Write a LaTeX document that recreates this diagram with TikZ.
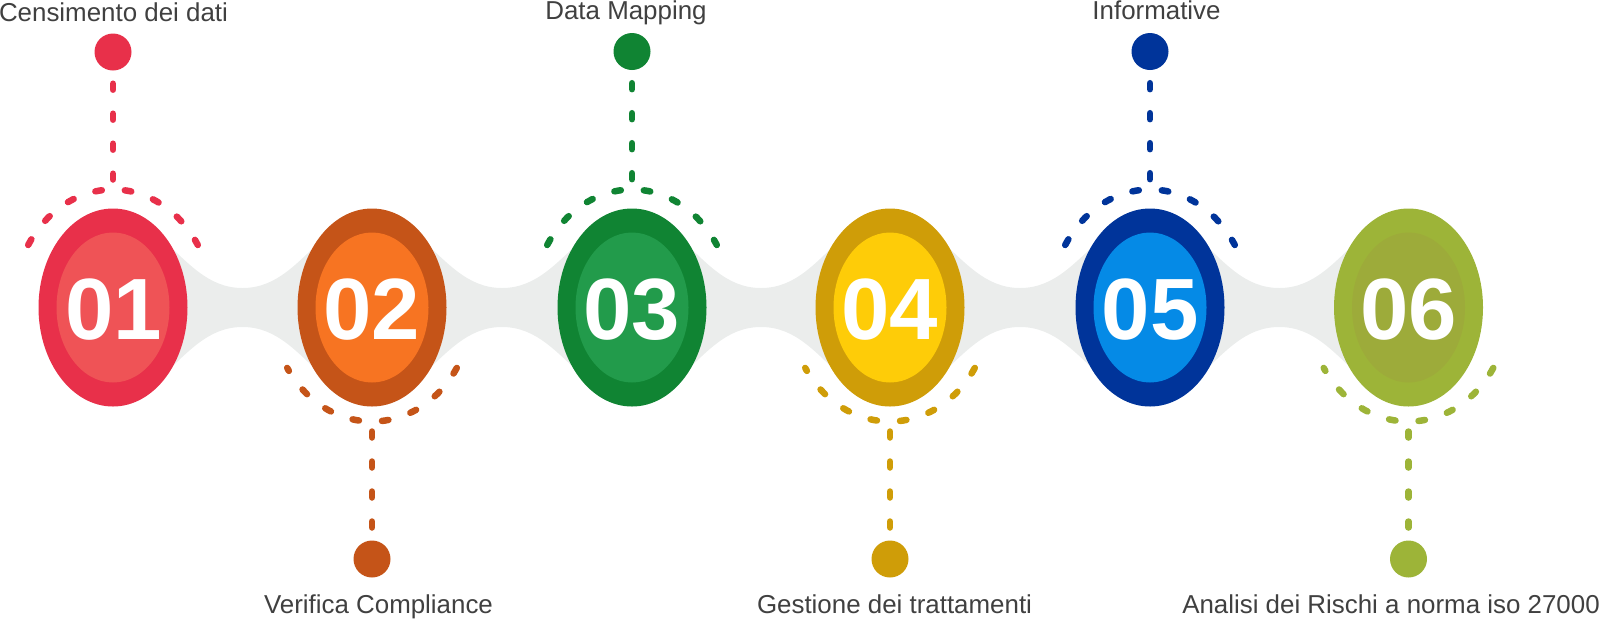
\documentclass[tikz,border=0pt]{standalone}
\usepackage{fontspec}
\setmainfont{Liberation Sans}
\usetikzlibrary{shapes.geometric}
\definecolor{bandgray}{HTML}{EBEDEC}
\definecolor{labelgray}{HTML}{404040}
\definecolor{cAo}{HTML}{E8304A}\definecolor{cAi}{HTML}{EF5356}
\definecolor{cBo}{HTML}{C55418}\definecolor{cBi}{HTML}{F77422}
\definecolor{cCo}{HTML}{108433}\definecolor{cCi}{HTML}{229B4B}
\definecolor{cDo}{HTML}{CF9D08}\definecolor{cDi}{HTML}{FECC08}
\definecolor{cEo}{HTML}{00349A}\definecolor{cEi}{HTML}{058AE6}
\definecolor{cFo}{HTML}{9DB438}\definecolor{cFi}{HTML}{9DAB3A}
\begin{document}
\begin{tikzpicture}[x=1pt,y=-1pt,
  outerov/.style={ellipse, inner sep=0pt, minimum width=149pt, minimum height=198pt},
  innerov/.style={ellipse, inner sep=0pt, minimum width=113pt, minimum height=150pt},
  num/.style={text=white, font=\fontsize{87}{87}\selectfont\bfseries, inner sep=0pt, anchor=base},
  dotnode/.style={circle, inner sep=0pt, minimum size=37pt},
  dl/.style={line width=6.5pt, line cap=round, dash pattern=on 6pt off 24pt},
  arcline/.style={line width=6.5pt, line cap=round, dash pattern=on 6.5pt off 23.1pt},
  lbl/.style={text=labelgray, font=\fontsize{25.9}{30}\selectfont, inner sep=0pt, anchor=base},
]
\useasboundingbox (0,0) rectangle (1600,619);
% connecting band
\foreach \xa/\xb in {113/372, 372/632, 632/890, 890/1150, 1150/1408.5} {
  \pgfmathsetmacro\mid{(\xa+\xb)/2}
  \fill[bandgray] (\xa+45,235) .. controls (\mid-55,262) and (\mid-35,288) .. (\mid,288)
    .. controls (\mid+35,288) and (\mid+55,262) .. (\xb-45,235) -- (\xb-45,380)
    .. controls (\mid+55,353) and (\mid+35,327) .. (\mid,327)
    .. controls (\mid-35,327) and (\mid-55,353) .. (\xa+45,380) -- cycle;
}
% ellipses
\node[outerov, fill=cAo] (e1) at (113,307.5) {};
\node[outerov, fill=cBo] (e2) at (372,307.5) {};
\node[outerov, fill=cCo] (e3) at (632,307.5) {};
\node[outerov, fill=cDo] (e4) at (890,307.5) {};
\node[outerov, fill=cEo] (e5) at (1150,307.5) {};
\node[outerov, fill=cFo] (e6) at (1408.5,307.5) {};
\node[innerov, fill=cAi] (i1) at (e1.center) {};
\node[innerov, fill=cBi] (i2) at (e2.center) {};
\node[innerov, fill=cCi] (i3) at (e3.center) {};
\node[innerov, fill=cDi] (i4) at (e4.center) {};
\node[innerov, fill=cEi] (i5) at (e5.center) {};
\node[innerov, fill=cFi] (i6) at (e6.center) {};
\node[num] (n1) at (114,339) {01};
\node[num] (n2) at (372,339) {02};
\node[num] (n3) at (632,339) {03};
\node[num] (n4) at (890,339) {04};
\node[num] (n5) at (1150,339) {05};
\node[num] (n6) at (1408.5,339) {06};
% dots
\node[dotnode, fill=cAo] (d1) at (113,52) {};
\node[dotnode, fill=cCo] (d3) at (632,51.5) {};
\node[dotnode, fill=cEo] (d5) at (1150,51.5) {};
\node[dotnode, fill=cBo] (d2) at (372,559) {};
\node[dotnode, fill=cDo] (d4) at (890,559) {};
\node[dotnode, fill=cFo] (d6) at (1408.5,559) {};
% top arcs and lines
\foreach \e/\d/\c in {e1/d1/cAo, e3/d3/cCo, e5/d5/cEo} {
  \draw[arcline, \c] ([shift={(148:100pt and 118pt)}]\e.center) arc[start angle=148, end angle=32, x radius=100pt, y radius=118pt];
  \draw[dl, \c] ([yshift=-13pt]\d.south) -- ([yshift=128pt]\e.center);
}
% bottom arcs and lines
\foreach \e/\d/\c in {e2/d2/cBo, e4/d4/cDo, e6/d6/cFo} {
  \draw[arcline, \c] ([shift={(328:100pt and 114pt)}]\e.center) arc[start angle=328, end angle=212, x radius=100pt, y radius=114pt];
  \draw[dl, \c] ([yshift=-124pt]\e.center) -- ([yshift=12pt]\d.north);
}
% labels
\node[lbl] (l1) at (113.5,21.5) {Censimento dei dati};
\node[lbl] (l3) at (626,19) {Data Mapping};
\node[lbl] (l5) at (1156.5,19.5) {Informative};
\node[lbl] (l2) at (378.5,613) {Verifica Compliance};
\node[lbl] (l4) at (894.5,613) {Gestione dei trattamenti};
\node[lbl] (l6) at (1391,613) {Analisi dei Rischi a norma iso 27000};
\end{tikzpicture}
\end{document}
